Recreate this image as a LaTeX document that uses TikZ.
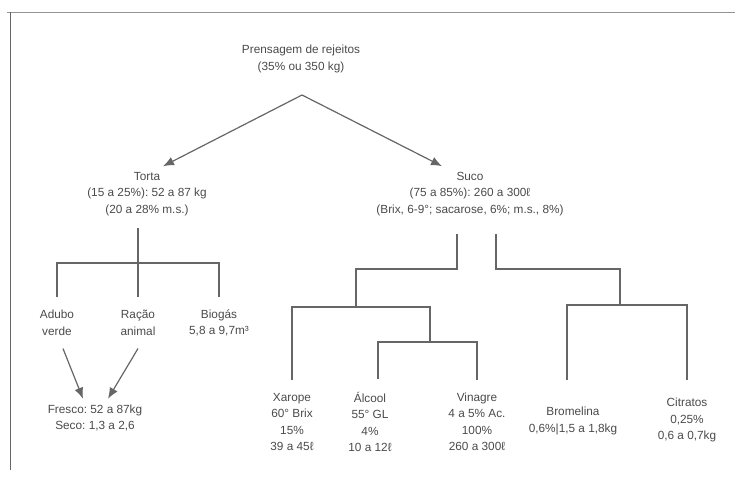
\documentclass[tikz,border=0pt]{standalone}
\usepackage{fontspec}
\setmainfont{Liberation Sans}
\usetikzlibrary{positioning,arrows.meta}
\definecolor{txtc}{HTML}{4A4A4A}
\definecolor{linec}{HTML}{666666}
\frenchspacing

\begin{document}
\begin{tikzpicture}[x=1pt, y=-1pt, node distance=81pt,
        lbl/.style={align=center, text=txtc, inner sep=1pt, outer sep=5pt,
            font=\fontsize{11.8}{16.5}\selectfont},
        leaf/.style={lbl, outer sep=12pt},
        tree/.style={draw=linec, line width=1.2pt},
        arr/.style={tree, -{Latex[length=11pt,width=9pt]}}]
        \useasboundingbox (0,0) rectangle (735,477);
        % Frame
        \draw[linec!70, line width=1pt] (7,12) -- (735,12);
        \draw[linec, line width=1pt] (10,12) -- (10,470);

        % Nodes
        \node[lbl] (P) at (301,59) {Prensagem de rejeitos\\(35\% ou 350 kg)};
        \node[lbl] (T) at (147,194) {Torta\\(15 a 25\%): 52 a 87 kg\\(20 a 28\% m.s.)};
        \node[lbl] (S) at (470,194) {Suco\\(75 a 85\%): 260 a 300ℓ\\(Brix, 6-9°; sacarose, 6\%; m.s., 8\%)};

        \node[leaf] (AV) at (57,323) {Adubo\\verde};
        \node[leaf] (RA) [right of=AV] {Ração\\animal};
        \node[leaf] (BG) [right of=RA] {Biogás\\5,8 a 9,7m³};
        \node[lbl] (F) at (95,418) {Fresco: 52 a 87kg\\Seco: 1,3 a 2,6};

        \node[leaf] (X) at (292,422) {Xarope\\60° Brix\\15\%\\39 a 45ℓ};
        \node[leaf] (AL) at (370,422) {Álcool\\55° GL\\4\%\\10 a 12ℓ};
        \node[leaf] (VI) at (477,422) {Vinagre\\4 a 5\% Ac.\\100\%\\260 a 300ℓ};
        \node[leaf] (BR) at (573,421) {Bromelina\\0,6\%|1,5 a 1,8kg};
        \node[leaf] (CI) at (687,420) {Citratos\\0,25\%\\0,6 a 0,7kg};

        % Junctions
        \coordinate (apex) at (302,95);
        \coordinate (t0) at (138,228);
        \coordinate (t1) at (138,263);
        \coordinate (s0) at (457,234);
        \coordinate (s1) at (356,307);
        \coordinate (s2) at (430,342);
        \coordinate (s3) at (496,234);
        \coordinate (s4) at (620,305);

        % Arrows
        \draw[arr] (apex) -- ([xshift=16pt]T.north);
        \draw[arr] (apex) -- ([xshift=-28pt]S.north);
        \draw[arr] ([xshift=6pt]AV.south) -- ([xshift=-12pt]F.north);
        \draw[arr] (RA.south) -- ([xshift=13pt]F.north);

        % Tree lines
        \draw[tree] (t0) -- (RA.north);
        \draw[tree] (AV.north) |- (t1) -| (BG.north);
        \draw[tree] (s0) -- ++(0,35) -| (s1);
        \draw[tree] (X.north) |- (s2 |- s1) -- (s2);
        \draw[tree] ([xshift=8pt]AL.north) |- (s2) -| (VI.north);
        \draw[tree] (s3) -- ++(0,35) -| (s4);
        \draw[tree] ([xshift=-6pt]BR.north |- X.north) |- (s4) -| (CI.north |- X.north);
    \end{tikzpicture}
\end{document}
